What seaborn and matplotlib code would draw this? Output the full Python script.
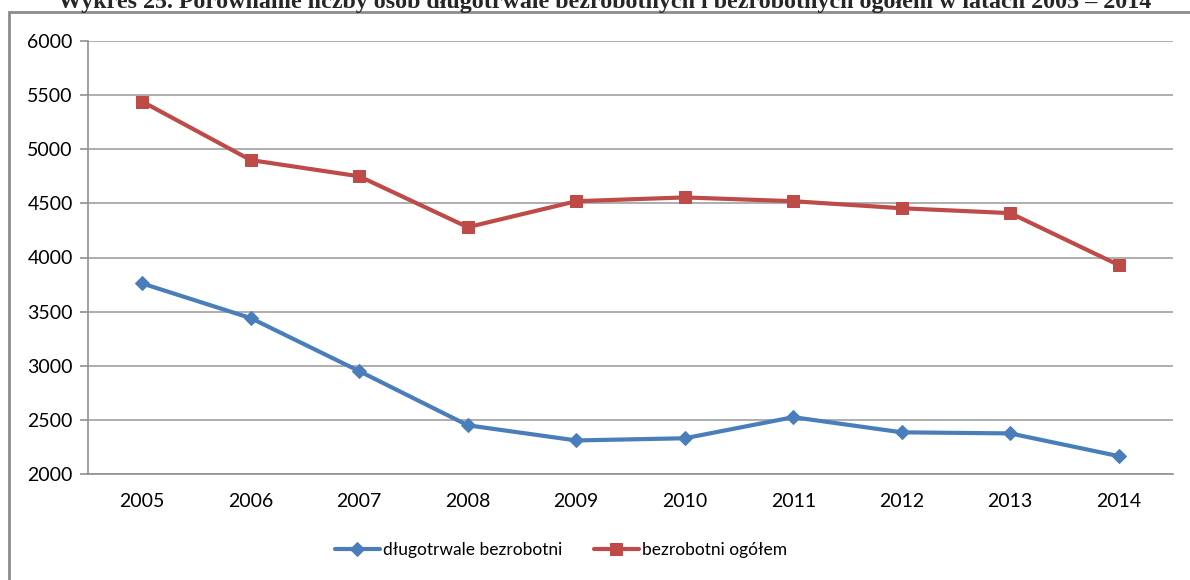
import pandas as pd
import matplotlib.pyplot as plt
import seaborn as sns
from matplotlib.patches import Rectangle

# Dane
lata = ['2005', '2006', '2007', '2008', '2009', '2010', '2011', '2012', '2013', '2014']
dlugotrwale = [3760, 3440, 2950, 2450, 2310, 2330, 2525, 2385, 2375, 2165]
ogolem = [5440, 4900, 4750, 4280, 4520, 4555, 4520, 4455, 4410, 3930]

serie = ['długotrwale bezrobotni', 'bezrobotni ogółem']
kolory = ['#4a7ebb', '#be4b48']
markery = ['D', 's']

df = pd.DataFrame({'Rok': lata * 2,
                   'Liczba': dlugotrwale + ogolem,
                   'Seria': [serie[0]] * len(lata) + [serie[1]] * len(lata)})

sns.set_style('white')
plt.rcParams['font.family'] = ['Lato', 'DejaVu Sans']

fig = plt.figure(figsize=(11.9, 5.8), dpi=100)
ax = fig.add_axes([88 / 1190, 1 - 474 / 580, (1173 - 88) / 1190, (474 - 41) / 580])

for s, c, m, ms in zip(serie, kolory, markery, [7, 8]):
    sns.lineplot(data=df[df['Seria'] == s], x='Rok', y='Liczba', color=c, marker=m,
                 markersize=ms, markeredgecolor=c, linewidth=3, label=s, ax=ax,
                 sort=False, zorder=3)

ax.set_xlim(-0.5, 9.5)
ax.set_ylim(2000, 6000)
ax.set_yticks(range(2000, 6001, 500))
ax.set_xticks([i - 0.5 for i in range(11)], minor=True)
ax.set_xticks(range(10))
ax.set_xticklabels(lata)
ax.set_xlabel('')
ax.set_ylabel('')
ax.grid(axis='y', color='#a0a0a0', linewidth=1.2)
ax.set_axisbelow(True)
for side in ['top', 'right']:
    ax.spines[side].set_visible(False)
for side in ['left', 'bottom']:
    ax.spines[side].set_color('#909090')
    ax.spines[side].set_linewidth(1.2)
ax.tick_params(axis='x', which='major', length=0, pad=14, labelsize=14, labelcolor='black')
ax.tick_params(axis='x', which='minor', length=6, color='#909090', width=1.2)
ax.tick_params(axis='y', length=6, color='#909090', width=1.2, labelsize=14, pad=5,
               left=True, labelcolor='black')

ax.legend(loc='center', bbox_to_anchor=((561 - 88) / 1085, (474 - 550) / 433), ncol=2,
          frameon=False, fontsize=12.5, handlelength=2.6, columnspacing=1.8,
          handletextpad=0.2, labelcolor='black')

# ramka wykresu
fig.patches.append(Rectangle((9 / 1190, -0.1), 1.2, 1.1 - 12 / 580, transform=fig.transFigure,
                             fill=False, edgecolor='#8c8c8c', linewidth=2, clip_on=False))

# tytuł częściowo ucięty u góry, jak w oryginale
fig.text(605 / 1190, 1 - 8 / 580, 'Wykres 25. Porównanie liczby osób długotrwale bezrobotnych i bezrobotnych ogółem w latach 2005 – 2014',
         ha='center', va='baseline', fontsize=17.3, fontweight='bold', family='Liberation Serif')

fig.savefig('out.png', dpi=100)
